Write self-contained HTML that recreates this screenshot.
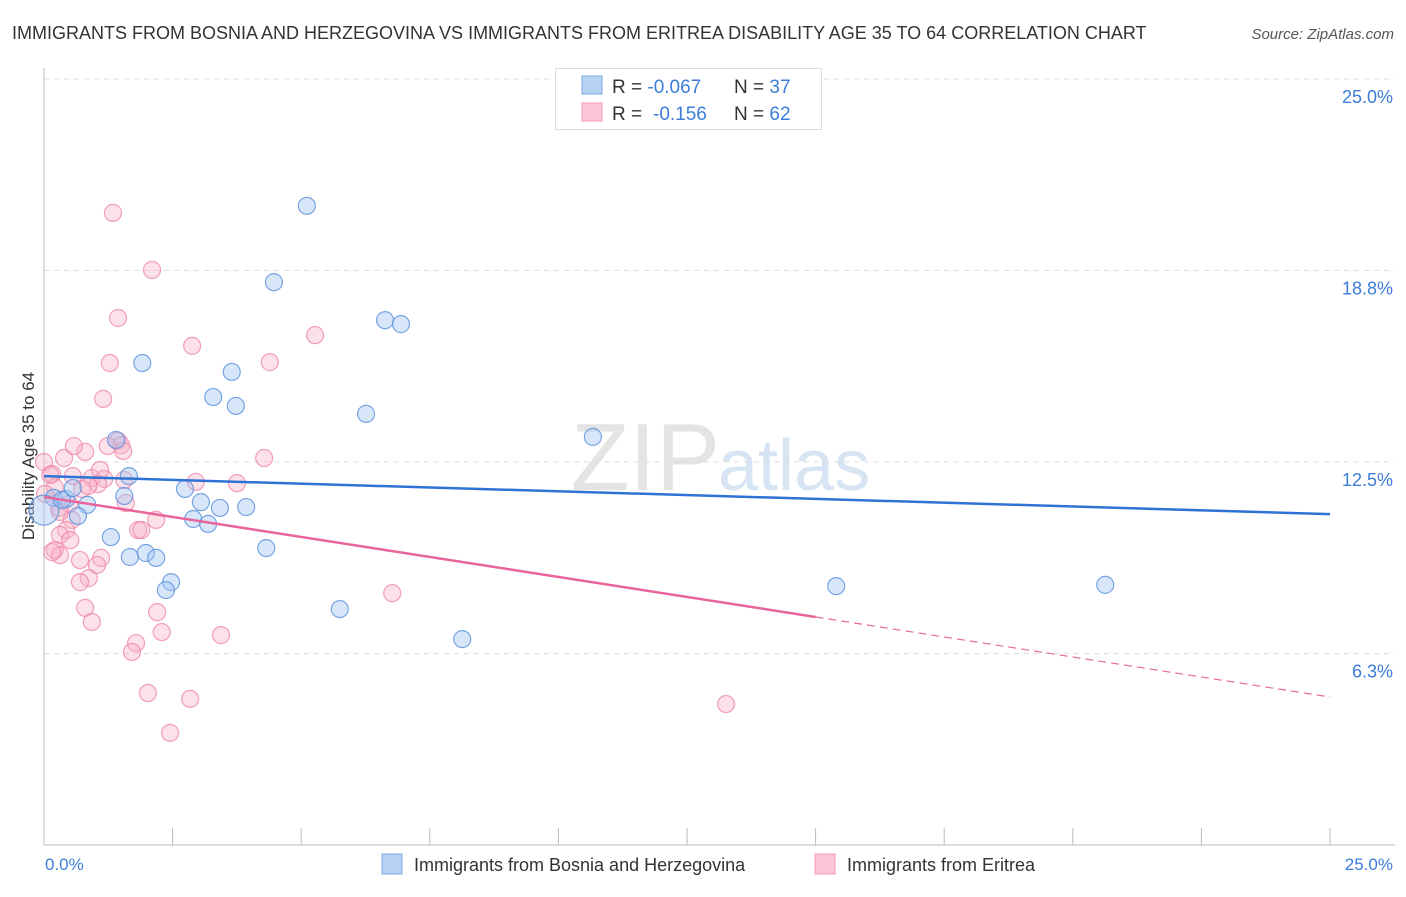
<!DOCTYPE html>
<html><head><meta charset="utf-8"><style>
body{margin:0;background:#fff;font-family:"Liberation Sans",sans-serif}
svg text{font-family:"Liberation Sans",sans-serif}
</style></head><body>
<svg id="c" width="1406" height="892" xmlns="http://www.w3.org/2000/svg">
<text x="12" y="39" font-size="18" fill="#333">IMMIGRANTS FROM BOSNIA AND HERZEGOVINA VS IMMIGRANTS FROM ERITREA DISABILITY AGE 35 TO 64 CORRELATION CHART</text>
<text x="1394" y="39" font-size="15" fill="#555" font-style="italic" text-anchor="end">Source: ZipAtlas.com</text>
<text x="720" y="490" font-size="96" fill="#e4e4e4" text-anchor="end" font-family="Liberation Serif">ZIP</text>
<text x="718" y="490" font-size="72" fill="#d6e4f4">atlas</text>
<text transform="translate(34,456) rotate(-90)" font-size="17" fill="#333" text-anchor="middle">Disability Age 35 to 64</text>
<g id="grid"></g><g id="axes"></g><g id="pts"></g><g id="trend"></g>
<g>
<rect x="555.5" y="68.5" width="266" height="61" fill="#fff" stroke="#ddd"/>
<rect x="582" y="76" width="20" height="18" fill="#b8d2f4" stroke="#7aa8e6"/>
<rect x="582" y="103" width="20" height="18" fill="#fbc7d6" stroke="#f09ab5"/>
<text x="612" y="93" font-size="19" fill="#333">R = <tspan fill="#3b7dd8">-0.067</tspan><tspan x="734">N = </tspan><tspan fill="#3b7dd8">37</tspan></text>
<text x="612" y="120" font-size="19" fill="#333">R = <tspan x="653" fill="#3b7dd8">-0.156</tspan><tspan x="734">N = </tspan><tspan fill="#3b7dd8">62</tspan></text>
</g>
<text x="45" y="870" font-size="17" fill="#3b7dd8">0.0%</text>
<text x="1393" y="870" font-size="17" fill="#3b7dd8" text-anchor="end">25.0%</text>
<g>
<rect x="382" y="854" width="20" height="20" fill="#b8d2f4" stroke="#7aa8e6"/>
<text x="414" y="871" font-size="18" fill="#333">Immigrants from Bosnia and Herzegovina</text>
<rect x="815" y="854" width="20" height="20" fill="#fbc7d6" stroke="#f09ab5"/>
<text x="847" y="871" font-size="18" fill="#333">Immigrants from Eritrea</text>
</g>
</svg>
<script>
const yTicks=[6.25,12.5,18.75,25];
const yTickLabels=["6.3%","12.5%","18.8%","25.0%"];
const xTicks=[0,2.5,5,7.5,10,12.5,15,17.5,20,22.5,25];
const bosniaX=[5.11,4.47,6.63,6.94,1.91,3.65,3.29,3.73,6.26,10.67,1.40,1.65,2.74,3.05,1.56,0.19,0.43,0.84,3.42,3.93,2.90,3.19,1.30,4.32,1.67,1.98,2.18,2.47,2.37,5.75,15.40,20.63,8.13,0,0.35,0.56,0.66];
const bosniaY=[20.86,18.37,17.13,17.00,15.73,15.44,14.62,14.33,14.07,13.32,13.22,12.04,11.62,11.19,11.39,11.33,11.29,11.10,11.00,11.03,10.64,10.48,10.05,9.69,9.40,9.53,9.37,8.58,8.32,7.70,8.45,8.49,6.72,10.93,11.26,11.65,10.74];
const eritreaX=[1.34,2.10,1.44,5.27,2.88,1.28,4.39,1.15,1.44,1.50,1.24,1.54,0.80,0.39,0,4.28,0.16,0.56,0.93,1.17,1.05,2.95,3.75,0.21,0.74,0.02,0.49,1.59,0.29,0.54,2.18,1.83,1.89,0.43,0.31,0.51,1.11,0.70,0.21,0.31,0.16,1.03,0.87,0.70,6.77,2.20,0.80,0.93,2.29,1.79,1.71,3.44,2.02,2.84,13.26,2.45,0.12,0.86,1.56,1.09,0.58,0.31];
const eritreaY=[20.63,18.77,17.20,16.64,16.29,15.73,15.76,14.56,13.19,13.05,13.02,12.86,12.83,12.63,12.50,12.63,12.11,12.04,11.98,11.95,11.78,11.85,11.81,11.68,11.62,11.46,11.13,11.16,11.00,10.61,10.61,10.28,10.28,10.28,10.12,9.95,9.37,9.30,9.63,9.46,9.56,9.14,8.71,8.58,8.22,7.60,7.74,7.28,6.95,6.59,6.30,6.85,4.96,4.77,4.60,3.66,12.08,11.72,11.91,12.24,13.02,10.87];
const bosniaTrend=[12.04,10.80];
const eritreaTrend=[11.36,4.83];
const eritreaSolidEnd=15;
const NS="http://www.w3.org/2000/svg";
const X=v=>44+v*(1286/25), Y=v=>845-v*(766/25);
function mk(p,t,a){const e=document.createElementNS(NS,t);for(const k in a)e.setAttribute(k,a[k]);p.appendChild(e);return e;}
const grid=document.getElementById('grid'),axes=document.getElementById('axes'),pts=document.getElementById('pts'),tr=document.getElementById('trend');
yTicks.forEach((t,i)=>{
 const l=mk(grid,'line',{x1:44,x2:1395,y1:Y(t),y2:Y(t),stroke:'#ddd','stroke-dasharray':'5,5'});
 
 
 const tx=mk(grid,'text',{x:1393,y:Y(t)+24,'font-size':18,fill:'#3b7dd8','text-anchor':'end'});
 tx.textContent=yTickLabels[i];
 
 
});
const ya=mk(axes,'line',{x1:44,x2:44,y1:68,y2:845,stroke:'#bbb'});


const xa=mk(axes,'line',{x1:44,x2:1395,y1:845,y2:845,stroke:'#bbb'});


xTicks.forEach(t=>{const l=mk(axes,'line',{x1:X(t),x2:X(t),y1:828,y2:845,stroke:'#bbb'});
 
 });
function dots(xs,ys,fill,stroke,name){xs.forEach((x,i)=>{
 const r=(x===0&&name==='bosnia-point')?15:8.5;
 const c=mk(pts,'circle',{cx:X(x),cy:Y(ys[i]),r:r,fill:fill,stroke:stroke,'stroke-width':1.2});
 
 });}
dots(eritreaX,eritreaY,'rgba(248,175,198,0.38)','rgba(236,130,165,0.75)','eritrea-point');
dots(bosniaX,bosniaY,'rgba(160,196,240,0.42)','rgba(90,145,220,0.8)','bosnia-point');
const bl=mk(tr,'line',{x1:X(0),y1:Y(bosniaTrend[0]),x2:X(25),y2:Y(bosniaTrend[1]),stroke:'#2f72d6','stroke-width':2.5});


const ey=x=>eritreaTrend[0]+(eritreaTrend[1]-eritreaTrend[0])*x/25;
const el1=mk(tr,'line',{x1:X(0),y1:Y(ey(0)),x2:X(eritreaSolidEnd),y2:Y(ey(eritreaSolidEnd)),stroke:'#e8649a','stroke-width':2.5});


const el2=mk(tr,'line',{x1:X(eritreaSolidEnd),y1:Y(ey(eritreaSolidEnd)),x2:X(25),y2:Y(ey(25)),stroke:'#e8649a','stroke-width':1.2,'stroke-dasharray':'8,5'});


</script>
</body></html>
